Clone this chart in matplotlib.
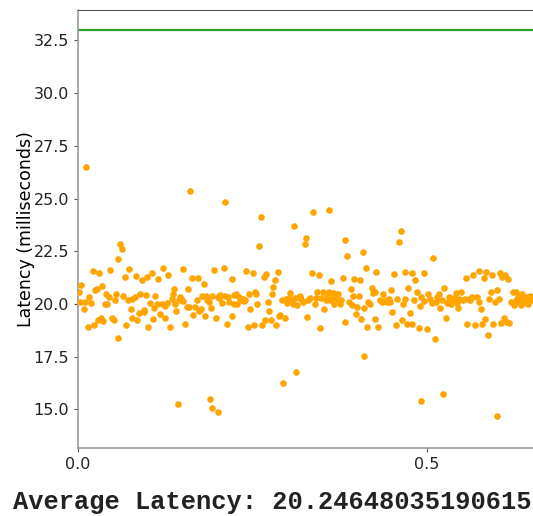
import matplotlib
matplotlib.use("Agg")
import matplotlib.pyplot as plt

# latency samples (time fraction, ms)
time_a = [0.001, 0.005, 0.003, 0.010, 0.008, 0.014, 0.016, 0.018, 0.021, 0.023,
          0.025, 0.027, 0.029, 0.030, 0.033, 0.035, 0.036, 0.039, 0.040, 0.042,
          0.044, 0.046, 0.048, 0.051, 0.053, 0.055, 0.058, 0.057, 0.060, 0.063,
          0.065, 0.067, 0.069, 0.071, 0.073, 0.076, 0.078, 0.078, 0.081, 0.083,
          0.085, 0.087, 0.089, 0.091, 0.094, 0.095, 0.097, 0.099, 0.101, 0.103,
          0.106, 0.108, 0.109, 0.111, 0.113, 0.115, 0.118, 0.120, 0.122, 0.124,
          0.125, 0.127, 0.129, 0.132, 0.134, 0.136, 0.138, 0.139, 0.141, 0.144,
          0.146, 0.148, 0.150, 0.151, 0.153, 0.156, 0.157, 0.159, 0.163, 0.165,
          0.167]
lat_a = [20.59, 20.88, 20.09, 20.09, 19.74, 18.93, 20.32, 20.04, 21.55, 19.01,
         20.67, 20.72, 19.22, 21.47, 19.33, 20.83, 19.17, 20.01, 20.48, 19.98,
         20.32, 21.62, 19.34, 19.25, 20.20, 20.48, 18.39, 22.15, 22.83, 22.61,
         20.40, 21.28, 19.01, 20.17, 21.67, 19.74, 19.33, 20.25, 20.32, 21.31,
         19.22, 19.56, 20.47, 21.15, 19.60, 19.72, 20.44, 21.28, 18.90, 20.04,
         21.47, 19.29, 19.82, 20.36, 20.01, 21.20, 19.53, 19.98, 21.72, 19.34,
         19.88, 20.04, 21.39, 18.93, 20.25, 20.48, 20.72, 19.98, 19.69, 20.17,
         20.32, 20.25, 20.13, 21.67, 19.06, 19.85, 20.72, 19.85, 21.24, 19.50,
         19.85]

time_b = [0.170, 0.172, 0.174, 0.176, 0.178, 0.180, 0.182, 0.183, 0.185, 0.188,
          0.190, 0.192, 0.195, 0.197, 0.200, 0.202, 0.204, 0.207, 0.209, 0.211,
          0.213, 0.215, 0.217, 0.220, 0.221, 0.223, 0.224, 0.226, 0.228, 0.231,
          0.232, 0.234, 0.236, 0.238, 0.239, 0.241, 0.243, 0.245, 0.247, 0.250,
          0.252, 0.254, 0.255, 0.257, 0.259, 0.264, 0.266, 0.268, 0.270, 0.272,
          0.274, 0.276, 0.278, 0.280, 0.282, 0.284, 0.286, 0.288, 0.290, 0.292,
          0.296, 0.298, 0.300, 0.302, 0.304, 0.306, 0.308, 0.311, 0.314, 0.316,
          0.318, 0.320, 0.323, 0.325, 0.326, 0.328, 0.330]
lat_b = [20.20, 21.23, 19.69, 19.77, 20.39, 20.96, 19.45, 20.39, 20.17, 20.09,
         19.82, 20.39, 21.62, 19.33, 20.32, 20.29, 20.44, 20.04, 21.70, 20.36,
         19.06, 20.32, 20.09, 21.20, 19.44, 20.44, 19.98, 20.48, 19.98, 20.32,
         20.29, 20.20, 20.25, 20.13, 20.17, 21.55, 18.93, 20.48, 19.77, 21.47,
         18.98, 20.59, 20.48, 20.01, 22.73, 18.98, 21.28, 19.22, 21.40, 20.11,
         19.66, 19.22, 20.48, 20.80, 21.12, 19.01, 21.50, 19.44, 19.50, 20.20,
         19.33, 20.25, 20.04, 20.29, 20.51, 20.13, 19.98, 20.29, 19.93, 20.32,
         20.40, 20.25, 20.09, 22.83, 23.15, 19.40, 20.17]

time_c = [0.332, 0.335, 0.339, 0.341, 0.343, 0.345, 0.347, 0.348, 0.351, 0.353,
          0.355, 0.357, 0.359, 0.361, 0.362, 0.363, 0.366, 0.367, 0.369, 0.371,
          0.373, 0.375, 0.377, 0.380, 0.382, 0.383, 0.386, 0.388, 0.391, 0.392,
          0.394, 0.396, 0.398, 0.399, 0.403, 0.404, 0.406, 0.409, 0.410, 0.412,
          0.414, 0.416, 0.418, 0.421, 0.423, 0.425, 0.426, 0.427, 0.430, 0.433,
          0.435, 0.437, 0.439, 0.441, 0.443, 0.445, 0.447, 0.448, 0.450, 0.453,
          0.455, 0.457, 0.460, 0.463, 0.464, 0.466, 0.468, 0.469, 0.471, 0.473,
          0.476, 0.478, 0.479, 0.481, 0.483, 0.485, 0.488, 0.490, 0.492, 0.495,
          0.496]
lat_c = [20.29, 21.47, 19.98, 20.29, 20.55, 21.36, 18.85, 20.29, 20.56, 19.74,
         20.20, 20.39, 20.56, 20.20, 21.07, 20.29, 20.51, 20.01, 20.25, 20.48,
         20.45, 19.98, 20.20, 21.23, 19.14, 23.05, 22.26, 20.09, 20.72, 19.93,
         20.40, 21.20, 19.53, 19.85, 20.39, 21.15, 19.28, 22.45, 19.82, 21.72,
         18.93, 20.09, 19.98, 20.77, 20.51, 19.29, 20.56, 21.50, 18.90, 20.17,
         20.09, 20.45, 20.13, 20.20, 20.09, 20.25, 20.09, 20.64, 19.63, 21.44,
         18.98, 20.25, 22.94, 23.46, 19.22, 20.01, 20.25, 21.52, 19.06, 20.77,
         19.56, 21.47, 19.03, 20.17, 21.15, 20.56, 18.87, 19.88, 20.32, 20.13,
         21.47]

time_d = [0.500, 0.502, 0.504, 0.507, 0.509, 0.511, 0.513, 0.515, 0.517, 0.519,
          0.521, 0.524, 0.527, 0.529, 0.531, 0.533, 0.535, 0.537, 0.539, 0.541,
          0.543, 0.544, 0.546, 0.548, 0.551, 0.554, 0.556, 0.558, 0.560, 0.562,
          0.564, 0.566, 0.569, 0.571, 0.574, 0.575, 0.577, 0.579, 0.581, 0.583,
          0.585, 0.587, 0.589, 0.591, 0.593, 0.595, 0.597, 0.600, 0.603, 0.605,
          0.606, 0.608, 0.610, 0.612, 0.614, 0.616, 0.618, 0.620, 0.623, 0.625,
          0.627, 0.628, 0.630, 0.632, 0.634, 0.636, 0.638, 0.640, 0.643, 0.645,
          0.647, 0.649, 0.650]
lat_d = [18.82, 20.45, 20.25, 20.04, 22.20, 18.34, 20.09, 20.32, 20.45, 19.82,
         20.17, 20.77, 19.34, 20.04, 20.32, 20.25, 19.98, 20.17, 20.29, 20.51,
         20.04, 19.82, 20.25, 20.56, 20.20, 20.25, 21.23, 19.06, 20.25, 20.20,
         20.32, 21.36, 18.98, 20.32, 20.09, 21.55, 19.77, 19.06, 21.24, 19.29,
         21.52, 18.55, 20.25, 20.56, 21.36, 19.06, 20.09, 20.67, 20.25, 21.47,
         19.09, 21.28, 19.34, 21.36, 19.14, 21.20, 19.09, 20.09, 20.56, 19.93,
         20.56, 20.17, 20.32, 20.09, 19.93, 20.48, 20.25, 20.09, 20.32, 19.98,
         20.40, 20.25, 20.17]

# spikes / drops
time_out = [0.011, 0.143, 0.160, 0.189, 0.192, 0.201, 0.211, 0.262, 0.294,
            0.309, 0.312, 0.337, 0.360, 0.410, 0.491, 0.523, 0.600]
lat_out = [26.48, 15.27, 25.34, 15.50, 15.07, 14.89, 24.84, 24.11, 16.27,
           23.70, 16.79, 24.35, 24.46, 17.55, 15.38, 15.71, 14.69]

threshold = 33.0
avg_latency = "20.24648035190615"

times = time_a + time_b + time_c + time_d + time_out
lats = lat_a + lat_b + lat_c + lat_d + lat_out

fig = plt.figure(figsize=(5.33, 5.16), dpi=100)
# the original plot is wider than the saved picture; right part is cut off
ax = fig.add_axes([78 / 533, 1 - 448 / 516, 698 / 533, 438 / 516])

ax.scatter(times, lats, s=14, color="orange", zorder=3)
ax.axhline(threshold, color="#2ca02c", linewidth=1.6)

ax.set_xlim(0, 1.0)
ax.set_ylim(13.17, 33.94)
ax.set_xticks([0.0, 0.5])
ax.set_yticks([15.0, 17.5, 20.0, 22.5, 25.0, 27.5, 30.0, 32.5])
ax.tick_params(labelsize=11.5, length=3, color="#555555", labelcolor="#222222")
ax.set_ylabel("Latency (milliseconds)", fontsize=12.5, labelpad=-1)

for side in ["left", "bottom"]:
    ax.spines[side].set_color("#999999")
    ax.spines[side].set_linewidth(1.2)
ax.spines["top"].set_color("#555555")

fig.text(0.511, 0.003, "Average Latency: " + avg_latency,
         ha="center", va="bottom", fontsize=18.3, fontweight="bold",
         family="Liberation Mono", color="#222222")

fig.savefig("out.png", dpi=100)
